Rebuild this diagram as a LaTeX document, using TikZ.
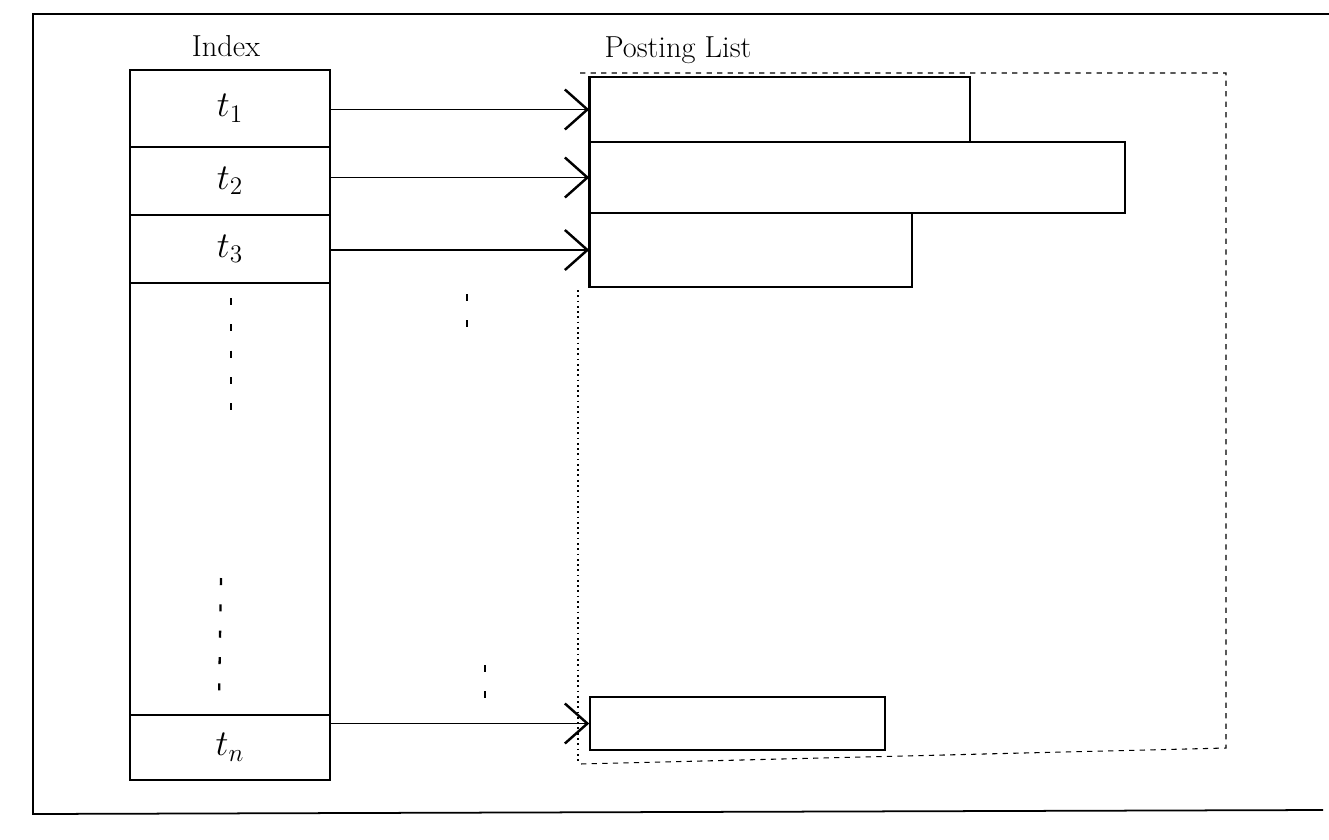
\documentclass[tikz,border=0pt]{standalone}
\usetikzlibrary{arrows.meta}
\tikzset{
  idxrow/.style={draw, line width=0.8pt, minimum width=4cm, inner sep=0pt, font=\huge},
  postrow/.style={draw, line width=0.9pt, inner sep=0pt},
  ptr/.style={line width=1.1pt, -{Straight Barb[length=4.5mm, width=8mm, line width=1.4pt]}},
  vdots/.style={line width=1.3pt, dash pattern=on 4pt off 11pt}
}
\begin{document}
\begin{tikzpicture}[x=0.02cm, y=-0.02cm]
\useasboundingbox (0,0) rectangle (1329,839);
% Outer frame, open on the right
\draw[line width=1pt] (1329,14) -- (33,14) -- (33,814) -- (1323,810);
% Index column
\node at (226,46) {\LARGE Index};
\node[idxrow, minimum height=1.54cm] (t1) at (230,108.5) {$t_1$};
\node[idxrow, minimum height=1.36cm] (t2) at (230,181) {$t_2$};
\node[idxrow, minimum height=1.36cm] (t3) at (230,249) {$t_3$};
\node[idxrow, minimum height=8.64cm] (mid) at (230,499) {};
\node[idxrow, minimum height=1.3cm] (tn) at (230,747.5) {$t_n$};
\draw[vdots] (231,298) -- (231,410);
\draw[vdots] (221,578) -- (219,700);
% Posting lists
\node at (678,50) {\LARGE Posting List};
\node[postrow, minimum width=7.6cm, minimum height=1.3cm] (p1) at (780,109.5) {};
\node[postrow, minimum width=10.7cm, minimum height=1.42cm] (p2) at (857.5,177.5) {};
\node[postrow, minimum width=6.44cm, minimum height=1.48cm] (p3) at (751,250) {};
\node[postrow, minimum width=5.9cm, minimum height=1.06cm] (pn) at (737.5,723.5) {};
\draw[line width=1.4pt] (p1.north west) -- (p3.south west);
% Dashed frame round the lists
\draw[dashed, line width=0.6pt] (580,73) -- (1226,73) -- (1226,748) -- (580,764);
\draw[dotted, line width=1pt] (578,290) -- (578,764);
% Pointers from terms to lists
\draw[ptr] (t1.east |- p1.west) -- (p1.west);
\draw[ptr] (t2.east |- p2.west) -- (p2.west);
\draw[ptr] (t3.east |- p3.west) -- (p3.west);
\draw[ptr] (tn.east |- pn.west) -- (pn.west);
\draw[vdots] (467,294) -- (467,340);
\draw[vdots] (485,665) -- (485,712);
\end{tikzpicture}
\end{document}
